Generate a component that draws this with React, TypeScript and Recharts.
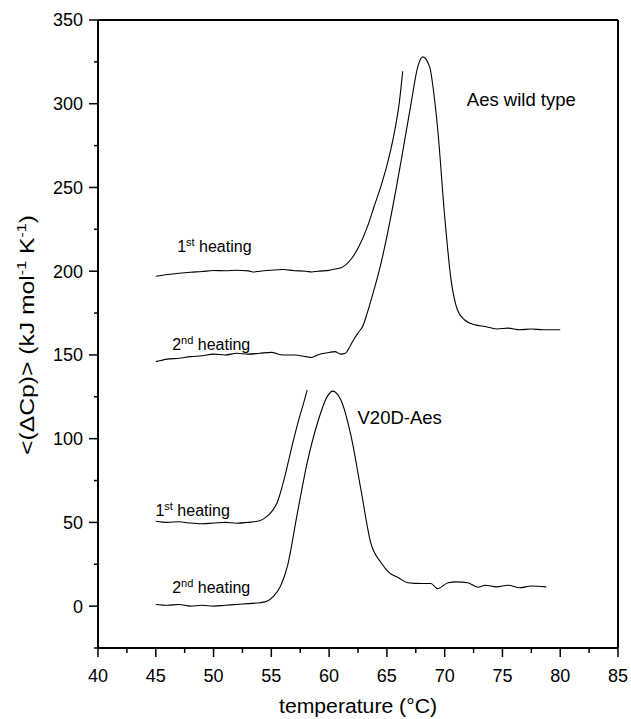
import { LineChart, Line, XAxis, YAxis, ReferenceLine, ReferenceDot } from 'recharts'

// Aes wild type, 1st heating
const wt1Temp = [45, 46, 47, 48, 49, 50, 51, 52, 53, 53.5, 54, 55, 56, 57, 58, 58.5, 59, 60, 60.5, 61.02, 61.88, 62.6, 63.33, 63.9, 64.48, 65.06, 65.64, 66.07, 66.37]
const wt1Cp = [197, 198, 198.8, 199.4, 199.8, 200.4, 200.3, 200.6, 200.2, 199.5, 200, 200.6, 201, 200.3, 200, 199.5, 200, 200.5, 201.3, 202, 207, 215, 226.9, 238.8, 250.7, 264.7, 282.6, 300.5, 319.4]

// Aes wild type, 2nd heating
const wt2Temp = [45, 46, 47, 48, 49, 50, 51, 52, 53, 54, 55, 56, 57, 58, 58.5, 59, 60, 60.5, 61, 61.4, 61.8, 62.2, 62.6, 62.9, 63.3, 63.6, 64.5, 65.35, 66.2, 67.1, 67.67, 68.1, 68.7, 69.1, 69.4, 70, 70.55, 71.1, 71.7, 72.6, 73.5, 74.5, 75.5, 76.5, 77.5, 78.5, 80]
const wt2Cp = [146, 147.5, 148, 149, 149.5, 150.5, 150, 151, 150.5, 151, 151.5, 150, 150, 149, 148.5, 150, 151.5, 152, 150.5, 151, 155, 160, 164, 167, 175, 182, 205, 232.8, 264.7, 300.5, 322, 328, 322, 304, 284.6, 232.8, 195, 177, 171, 168, 167, 165.5, 166, 165, 165.5, 165, 165]

// V20D-Aes, 1st heating
const v1Temp = [45, 46, 47, 48, 49, 50, 51, 52, 53, 54, 54.65, 55.1, 55.5, 56.1, 56.5, 57, 57.4, 57.7, 58.1]
const v1Cp = [50.7, 50, 50.4, 49.6, 49.2, 49.6, 50, 49.5, 50, 51, 53.7, 57, 61.7, 75.6, 87, 101.5, 112, 119, 129]

// V20D-Aes, 2nd heating
const v2Temp = [45, 46, 47, 48, 49, 50, 51, 52, 53, 54, 54.65, 55.2, 55.8, 56.4, 57.26, 58.1, 59, 59.86, 60.3, 61, 61.9, 62.75, 63.6, 64.5, 65.2, 66, 66.8, 68, 68.8, 69.4, 70.3, 71, 72, 72.9, 73.5, 74.5, 75.5, 76.5, 77.5, 78.8]
const v2Cp = [1, 0.5, 1, 0, 0.5, 0, 0.5, 1, 1.5, 2, 3, 6, 12, 24, 55.8, 85.6, 109.5, 125.4, 128.4, 123.4, 101.5, 69.7, 37.9, 25.9, 20, 17, 14, 13.5, 13.5, 10.5, 14, 14.5, 14, 11.3, 12.5, 11.5, 12.5, 11, 12, 11.5]

const xTicks = [40, 42.5, 45, 47.5, 50, 52.5, 55, 57.5, 60, 62.5, 65, 67.5, 70, 72.5, 75, 77.5, 80, 82.5, 85]
const yTicks = [-25, 0, 25, 50, 75, 100, 125, 150, 175, 200, 225, 250, 275, 300, 325, 350]

const zip = (t: number[], cp: number[]) => t.map((v, i) => ({ t: v, cp: cp[i] }))

const FONT = '"Liberation Sans", Arial, Helvetica, sans-serif'

function XTick({ x, y, payload }: any) {
  const major = payload.value % 5 === 0
  return (
    <g>
      <line x1={x} x2={x} y1={y} y2={y + (major ? 9 : 5)} stroke="#000" strokeWidth={1.5} />
      {major && (
        <text x={x} y={y + 28} dy="0.36em" textAnchor="middle" fontSize={18} fontFamily={FONT} fill="#000">
          {payload.value}
        </text>
      )}
    </g>
  )
}

function YTick({ x, y, payload }: any) {
  const major = payload.value % 50 === 0
  return (
    <g>
      <line x1={x} x2={x - (major ? 9 : 4)} y1={y} y2={y} stroke="#000" strokeWidth={1.5} />
      {major && (
        <text x={x - 15} y={y} dy="0.36em" textAnchor="end" fontSize={18} fontFamily={FONT} fill="#000">
          {payload.value}
        </text>
      )}
    </g>
  )
}

const heating = (ord: string, sup: string) => (p: any) => (
  <text x={p.viewBox.x} y={p.viewBox.y} fontSize={16} fontFamily={FONT} fill="#000">
    <tspan>{ord}</tspan>
    <tspan fontSize={11} dy={-6}>{sup}</tspan>
    <tspan dy={6}>{'\u00A0heating'}</tspan>
  </text>
)

const plain = (s: string) => (p: any) => (
  <text x={p.viewBox.x} y={p.viewBox.y} fontSize={18.5} fontFamily={FONT} fill="#000">
    {s}
  </text>
)

const YTitle = () => (
  <text transform="rotate(-90)" x={-335} y={34} textAnchor="middle" fontSize={20} fontFamily={FONT} fill="#000" textLength={240} lengthAdjust="spacingAndGlyphs">
    <tspan>{'<(ΔCp)> (kJ mol'}</tspan>
    <tspan fontSize={13} dy={-8}>-1</tspan>
    <tspan dy={8}>{'\u00A0K'}</tspan>
    <tspan fontSize={13} dy={-8}>-1</tspan>
    <tspan dy={8}>)</tspan>
  </text>
)

const XTitle = () => (
  <text x={358} y={713} textAnchor="middle" fontSize={20} fontFamily={FONT} fill="#000" textLength={158} lengthAdjust="spacingAndGlyphs">
    temperature (°C)
  </text>
)

export default function App() {
  return (
    <div style={{ position: 'absolute', left: 0, top: 0, width: 631, height: 719, background: '#fff' }}>
      <LineChart width={631} height={719} margin={{ top: 20, right: 13, bottom: 41, left: 38 }}>
        <XAxis
          type="number"
          dataKey="t"
          domain={[40, 85]}
          ticks={xTicks}
          interval={0}
          height={30}
          tickSize={0}
          tickMargin={0}
          tickLine={false}
          tick={<XTick />}
          axisLine={{ stroke: '#000', strokeWidth: 2 }}
          allowDataOverflow
          label={{ content: XTitle }}
        />
        <YAxis
          type="number"
          domain={[-25, 350]}
          ticks={yTicks}
          interval={0}
          width={60}
          tickSize={0}
          tickMargin={0}
          tickLine={false}
          tick={<YTick />}
          axisLine={{ stroke: '#000', strokeWidth: 2 }}
          allowDataOverflow
          label={{ content: YTitle }}
        />
        <ReferenceLine y={350} stroke="#000" strokeWidth={2} />
        <ReferenceLine x={85} stroke="#000" strokeWidth={2} />
        <Line data={zip(wt1Temp, wt1Cp)} dataKey="cp" type="monotone" stroke="#000" strokeWidth={1.1} dot={false} isAnimationActive={false} />
        <Line data={zip(wt2Temp, wt2Cp)} dataKey="cp" type="monotone" stroke="#000" strokeWidth={1.1} dot={false} isAnimationActive={false} />
        <Line data={zip(v1Temp, v1Cp)} dataKey="cp" type="monotone" stroke="#000" strokeWidth={1.1} dot={false} isAnimationActive={false} />
        <Line data={zip(v2Temp, v2Cp)} dataKey="cp" type="monotone" stroke="#000" strokeWidth={1.1} dot={false} isAnimationActive={false} />
        <ReferenceDot x={46.85} y={211.5} r={0} fill="none" stroke="none" label={{ content: heating('1', 'st') }} />
        <ReferenceDot x={46.42} y={152.7} r={0} fill="none" stroke="none" label={{ content: heating('2', 'nd') }} />
        <ReferenceDot x={71.92} y={298.9} r={0} fill="none" stroke="none" label={{ content: plain('Aes wild type') }} />
        <ReferenceDot x={44.97} y={53.7} r={0} fill="none" stroke="none" label={{ content: heating('1', 'st') }} />
        <ReferenceDot x={46.42} y={8} r={0} fill="none" stroke="none" label={{ content: heating('2', 'nd') }} />
        <ReferenceDot x={62.46} y={109} r={0} fill="none" stroke="none" label={{ content: plain('V20D-Aes') }} />
      </LineChart>
    </div>
  )
}
